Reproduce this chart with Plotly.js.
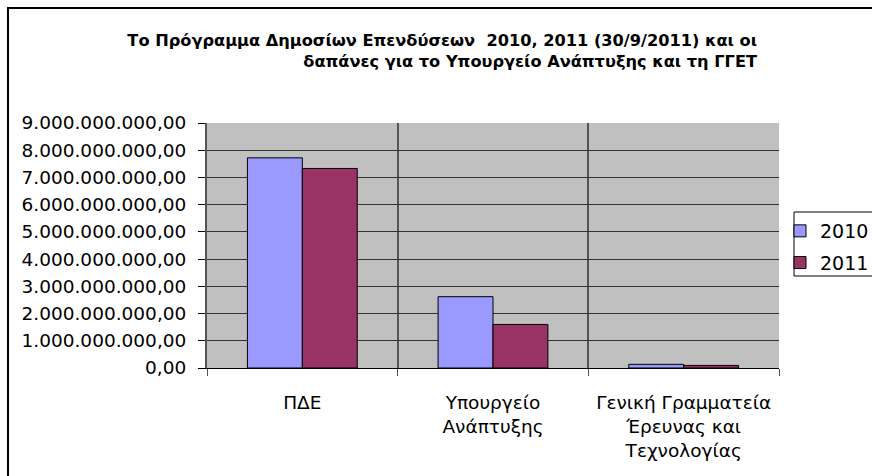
<!DOCTYPE html>
<html>
<head>
<meta charset="utf-8">
<script src="https://cdn.plot.ly/plotly-3.0.1.min.js"></script>
<style>
  html, body { margin: 0; padding: 0; background: #fff; }
  #chart { width: 872px; height: 476px; }
</style>
</head>
<body>
<div id="chart"></div>
<script>
// ---- data ----
const categories = [
  'ΠΔΕ',
  'Υπουργείο<br>Ανάπτυξης',
  'Γενική Γραμματεία<br>Έρευνας και<br>Τεχνολογίας'
];
const values2010 = [7720000000, 2620000000, 135000000];
const values2011 = [7330000000, 1600000000, 95000000];
const seriesNames = ['2010', '2011'];
const yTickValues = [0, 1e9, 2e9, 3e9, 4e9, 5e9, 6e9, 7e9, 8e9, 9e9];
const titleText = 'Το Πρόγραμμα Δημοσίων Επενδύσεων  2010, 2011 (30/9/2011) και οι<br>δαπάνες για το Υπουργείο Ανάπτυξης και τη ΓΓΕΤ';

const W = 872, H = 476;
const L = 207, R = 779, T = 123, B = 368;
const pw = R - L, ph = B - T;
const px = v => (v - L) / pw;          // pixel -> paper x
const py = v => (B - v) / ph;          // pixel -> paper y

const tickFont = { family: 'DejaVu Sans, sans-serif', size: 18.5, color: '#000' };

const traces = [
  {
    type: 'bar', name: seriesNames[0], x: categories, y: values2010,
    marker: { color: '#9999FF', line: { color: '#000', width: 1 } },
    legendgroup: 'a', hoverinfo: 'x+y'
  },
  {
    type: 'bar', name: seriesNames[1], x: categories, y: values2011,
    marker: { color: '#993366', line: { color: '#000', width: 1 } },
    legendgroup: 'b', hoverinfo: 'x+y'
  }
];

const layout = {
  width: W, height: H,
  margin: { l: L, r: W - R, t: T, b: H - B, autoexpand: false },
  paper_bgcolor: '#ffffff',
  plot_bgcolor: '#C0C0C0',
  separators: ',.',
  barmode: 'group',
  bargap: 0.424,
  bargroupgap: 0,
  title: {
    text: titleText,
    font: { family: 'DejaVu Sans, sans-serif', size: 16.2, color: '#000', weight: 'bold' },
    xref: 'paper', x: px(757), xanchor: 'right',
    yref: 'container', y: 1 - 46 / H, yanchor: 'top'
  },
  xaxis: {
    type: 'category',
    tickson: 'boundaries',
    showgrid: true, gridcolor: '#555', gridwidth: 2,
    showline: true, linecolor: '#000', linewidth: 1,
    ticks: 'outside', ticklen: 7, tickcolor: '#555', tickwidth: 1,
    tickfont: tickFont,
    ticklabelstandoff: 18,
    fixedrange: true
  },
  yaxis: {
    range: [0, 9e9],
    tickvals: yTickValues,
    tickformat: ',.2f',
    showgrid: true, gridcolor: '#333', gridwidth: 1,
    zeroline: false,
    showline: true, linecolor: '#555', linewidth: 2,
    ticks: 'outside', ticklen: 7, tickcolor: '#000', tickwidth: 1,
    tickfont: tickFont,
    ticklabelstandoff: 8,
    fixedrange: true
  },
  showlegend: true,
  legend: {
    x: px(780), xanchor: 'left',
    y: py(212), yanchor: 'top',
    bgcolor: 'rgba(0,0,0,0)',
    borderwidth: 0,
    font: { family: 'DejaVu Sans, sans-serif', size: 19, color: '#000' },
    traceorder: 'grouped',
    tracegroupgap: 4
  },
  shapes: [
    // outer chart border
    { type: 'rect', xref: 'paper', yref: 'paper',
      x0: px(8), x1: px(890), y0: py(495), y1: py(8),
      line: { color: '#000', width: 2 }, fillcolor: 'rgba(0,0,0,0)', layer: 'above' },
    // legend box
    { type: 'rect', xref: 'paper', yref: 'paper',
      x0: px(794), x1: px(890), y0: py(276), y1: py(212),
      line: { color: '#000', width: 1 }, fillcolor: 'rgba(0,0,0,0)', layer: 'above' }
  ]
};

Plotly.newPlot('chart', traces, layout, { displayModeBar: false, staticPlot: true });
</script>
</body>
</html>
